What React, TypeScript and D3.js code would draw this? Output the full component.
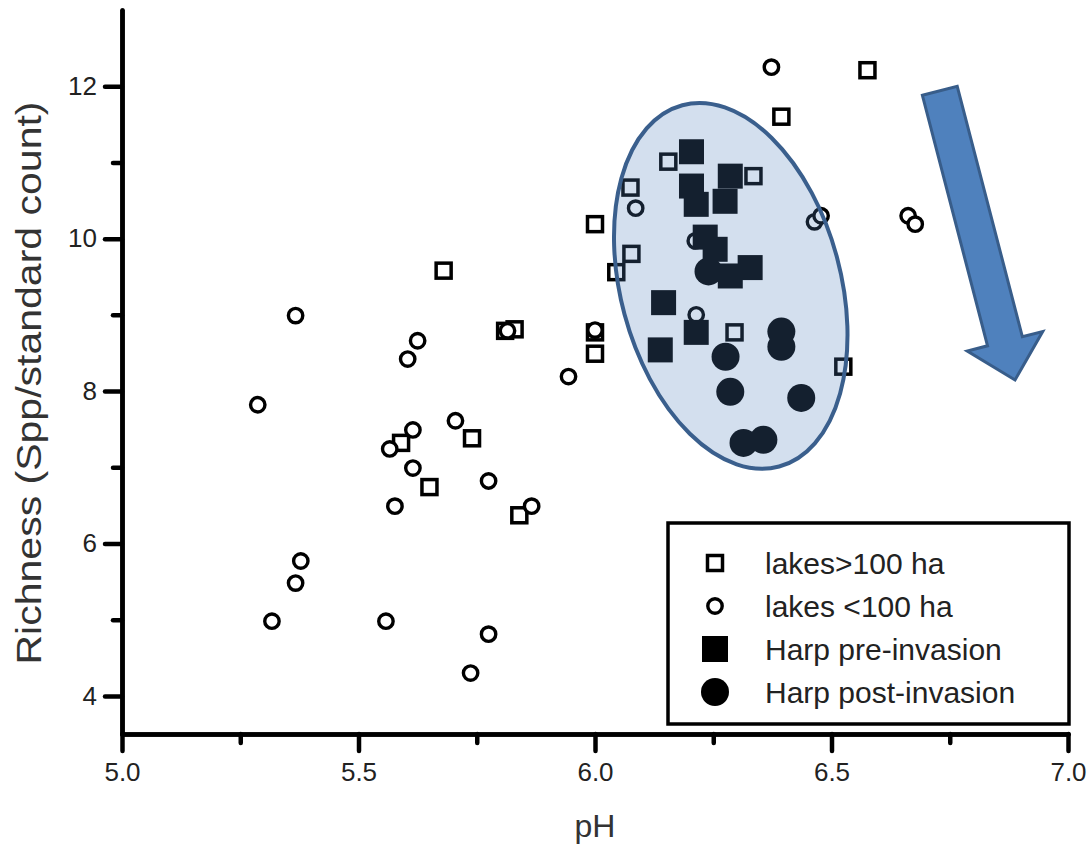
import { useRef, useEffect } from 'react'
import { select, scaleLinear, axisLeft, axisBottom } from 'd3'

// [pH, richness]
const lakesLarge = [
  [5.68, 9.58], [5.81, 8.79], [5.83, 8.81], [5.74, 7.38], [5.59, 7.32],
  [5.65, 6.74], [5.84, 6.37], [6.0, 8.77], [6.0, 8.49], [6.155, 11.01],
  [6.075, 10.67], [6.335, 10.82], [6.0, 10.19], [6.077, 9.8], [6.045, 9.56],
  [6.295, 8.77], [6.525, 8.32], [6.576, 12.21], [6.394, 11.6],
]
const lakesSmall = [
  [5.367, 8.99], [5.625, 8.66], [5.604, 8.42], [5.287, 7.82], [5.705, 7.61],
  [5.615, 7.49], [5.566, 7.24], [5.615, 6.99], [5.775, 6.82], [5.577, 6.49],
  [5.866, 6.49], [5.378, 5.77], [5.367, 5.48], [5.317, 4.98], [5.558, 4.98],
  [5.775, 4.81], [5.737, 4.3], [5.944, 8.19], [5.815, 8.79], [6.0, 8.8],
  [6.086, 10.4], [6.212, 9.97], [6.214, 9.0], [6.464, 10.22], [6.478, 10.3],
  [6.662, 10.3], [6.677, 10.19], [6.373, 12.25],
]
const harpPre = [
  [6.204, 11.14], [6.286, 10.82], [6.204, 10.69], [6.214, 10.45], [6.275, 10.49],
  [6.233, 10.02], [6.254, 9.86], [6.328, 9.62], [6.286, 9.51], [6.145, 9.16],
  [6.214, 8.77], [6.138, 8.54],
]
const harpPost = [
  [6.24, 9.57], [6.394, 8.78], [6.394, 8.58], [6.276, 8.45], [6.286, 7.99],
  [6.436, 7.91], [6.314, 7.32], [6.356, 7.36],
]

const xTicks = [5.0, 5.5, 6.0, 6.5, 7.0]
const xMinorTicks = [5.25, 5.75, 6.25, 6.75]
const yTicks = [4, 6, 8, 10, 12]
const yMinorTicks = [5, 7, 9, 11]

const legendLabels = ['lakes>100 ha', 'lakes <100 ha', 'Harp pre-invasion', 'Harp post-invasion']

// annotations (data units)
const ellipseCenter = [6.287, 9.38]
const arrowFrom = [6.729, 11.94]
const arrowTo = [6.888, 8.145]

const font = '"Liberation Sans", Arial, sans-serif'

const App = () => {
  const svgRef = useRef(null)

  useEffect(() => {
    const svg = select(svgRef.current)
    svg.selectAll('*').remove()

    const xScale = scaleLinear().domain([5, 7]).range([122, 1068])
    const yScale = scaleLinear().domain([3.5, 13]).range([734, 10])

    // axes: minor ticks in their own groups so the major call doesn't rebind them
    const yAxisMinor = axisLeft(yScale).tickValues(yMinorTicks).tickSize(9).tickSizeOuter(0).tickFormat(() => '')
    const yAxis = axisLeft(yScale).tickValues(yTicks).tickSize(17).tickSizeOuter(0).tickPadding(8)
      .tickFormat((d) => String(d))
    const xAxisMinor = axisBottom(xScale).tickValues(xMinorTicks).tickSize(9).tickSizeOuter(0).tickFormat(() => '')
    const xAxis = axisBottom(xScale).tickValues(xTicks).tickSize(17).tickSizeOuter(0).tickPadding(12)
      .tickFormat((d) => Number(d).toFixed(1))

    const yPos = `translate(${xScale(5)},0)`
    const xPos = `translate(0,${yScale(3.5)})`
    svg.append('g').attr('transform', yPos).call(yAxisMinor)
    svg.append('g').attr('transform', yPos).call(yAxis)
    svg.append('g').attr('transform', xPos).call(xAxisMinor)
    svg.append('g').attr('transform', xPos).call(xAxis)

    svg.selectAll('.domain, .tick line')
      .attr('stroke', '#000')
      .attr('stroke-width', 4.5)
      .attr('stroke-linecap', 'round')
    svg.selectAll('.tick text').attr('font-family', font).attr('font-size', 26).attr('fill', '#222')

    svg.append('text')
      .text('pH')
      .attr('x', 595)
      .attr('y', 837)
      .attr('text-anchor', 'middle')
      .attr('font-family', font)
      .attr('font-size', 32)
      .attr('fill', '#333')

    svg.append('text')
      .text('Richness (Spp/standard count)')
      .attr('transform', 'translate(41,383) rotate(-90)')
      .attr('text-anchor', 'middle')
      .attr('font-family', font)
      .attr('font-size', 35)
      .attr('textLength', 563)
      .attr('lengthAdjust', 'spacingAndGlyphs')
      .attr('fill', '#333')

    // points
    const pts = svg.append('g')
    pts.selectAll('rect.open').data(lakesLarge).join('rect')
      .attr('x', (d) => xScale(d[0]) - 7.5)
      .attr('y', (d) => yScale(d[1]) - 7.5)
      .attr('width', 15).attr('height', 15)
      .attr('fill', '#fff').attr('stroke', '#000').attr('stroke-width', 3.5)
    pts.selectAll('circle.open').data(lakesSmall).join('circle')
      .attr('cx', (d) => xScale(d[0]))
      .attr('cy', (d) => yScale(d[1]))
      .attr('r', 7.2)
      .attr('fill', '#fff').attr('stroke', '#000').attr('stroke-width', 3.4)
    pts.selectAll('rect.filled').data(harpPre).join('rect')
      .attr('x', (d) => xScale(d[0]) - 12.5)
      .attr('y', (d) => yScale(d[1]) - 12.5)
      .attr('width', 25).attr('height', 25)
      .attr('fill', '#000')
    pts.selectAll('circle.filled').data(harpPost).join('circle')
      .attr('cx', (d) => xScale(d[0]))
      .attr('cy', (d) => yScale(d[1]))
      .attr('r', 14)
      .attr('fill', '#000')

    // highlight ellipse drawn over the Harp points
    svg.append('ellipse')
      .attr('transform', `translate(${xScale(ellipseCenter[0])},${yScale(ellipseCenter[1])}) rotate(-15)`)
      .attr('rx', 110)
      .attr('ry', 187)
      .attr('fill', 'rgba(79,129,189,0.25)')
      .attr('stroke', '#3a5f8d')
      .attr('stroke-width', 4)

    // block arrow
    const ax0 = xScale(arrowFrom[0]), ay0 = yScale(arrowFrom[1])
    const ax1 = xScale(arrowTo[0]), ay1 = yScale(arrowTo[1])
    const len = Math.hypot(ax1 - ax0, ay1 - ay0)
    const ang = (-Math.atan2(ax1 - ax0, ay1 - ay0) * 180) / Math.PI
    const sw = 18, hw = 39, hl = 40
    const arrowPts = [
      [-sw, 0], [sw, 0], [sw, len - hl], [hw, len - hl], [0, len], [-hw, len - hl], [-sw, len - hl],
    ]
    svg.append('path')
      .attr('d', 'M' + arrowPts.map((p) => p.join(',')).join('L') + 'Z')
      .attr('transform', `translate(${ax0},${ay0}) rotate(${ang})`)
      .attr('fill', '#4f81bd')
      .attr('stroke', '#385d8a')
      .attr('stroke-width', 3)

    // legend
    const legend = svg.append('g')
    legend.append('rect')
      .attr('x', 668).attr('y', 523).attr('width', 401).attr('height', 201)
      .attr('fill', '#fff').attr('stroke', '#000').attr('stroke-width', 3.5)
    const rowY = [563, 606, 649, 692]
    legend.append('rect')
      .attr('x', 715 - 7.5).attr('y', rowY[0] - 7.5).attr('width', 15).attr('height', 15)
      .attr('fill', '#fff').attr('stroke', '#000').attr('stroke-width', 3.5)
    legend.append('circle')
      .attr('cx', 715).attr('cy', rowY[1]).attr('r', 7.2)
      .attr('fill', '#fff').attr('stroke', '#000').attr('stroke-width', 3.4)
    legend.append('rect')
      .attr('x', 715 - 13).attr('y', rowY[2] - 13).attr('width', 26).attr('height', 26)
      .attr('fill', '#000')
    legend.append('circle')
      .attr('cx', 715).attr('cy', rowY[3]).attr('r', 14).attr('fill', '#000')
    legend.selectAll('text.lbl').data(legendLabels).join('text')
      .text((d) => d)
      .attr('x', 765)
      .attr('y', (d, i) => rowY[i])
      .attr('dy', '0.35em')
      .attr('font-family', font)
      .attr('font-size', 30)
      .attr('fill', '#222')
  }, [])

  return (
    <div>
      <svg
        ref={svgRef}
        width="1090"
        height="846"
        style={{ position: 'absolute', left: 0, top: 0, background: '#fff' }}
      ></svg>
    </div>
  )
}

export default App
